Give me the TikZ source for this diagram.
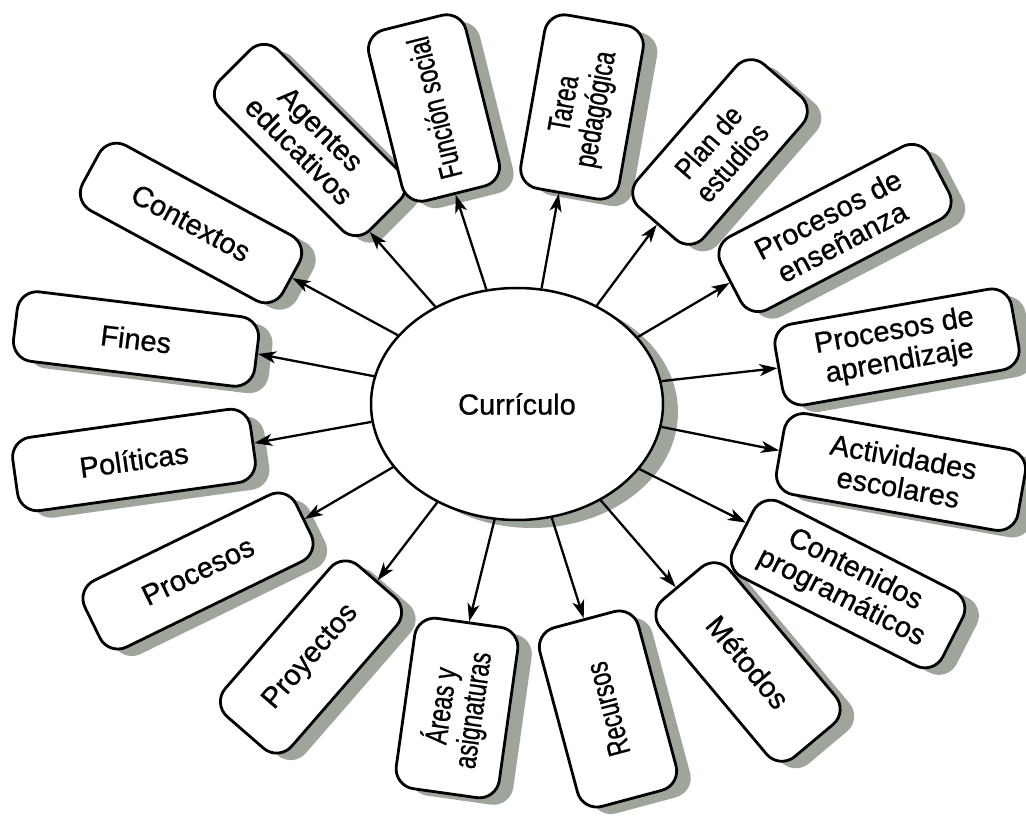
\documentclass[tikz,border=0pt]{standalone}
\usepackage{fontspec}
\setmainfont{Liberation Sans}
\newfontfamily\normf{Liberation Sans}[FakeBold=0.8]
\newfontfamily\midf{Liberation Sans}[FakeStretch=0.87,FakeBold=0.8]
\newfontfamily\narrowf{Liberation Sans}[FakeStretch=0.72,FakeBold=0.8]
\newcommand\normset{\normf\fontsize{29}{31}\selectfont}
\newcommand\midset{\midf\fontsize{29}{31}\selectfont}
\newcommand\narrowset{\narrowf\fontsize{31.5}{32}\selectfont}
\usetikzlibrary{arrows.meta,shapes.geometric}
\definecolor{shade}{RGB}{158,166,156}
\begin{document}
\begin{tikzpicture}[x=1pt,y=1pt,
  boxbase/.style={rectangle,rounded corners=20pt,inner sep=0pt,align=center},
  mainbox/.style={boxbase,draw=black,line width=2.8pt,fill=white},
  shadowbox/.style={boxbase,fill=shade},
  hub/.style={ellipse,inner sep=0pt,minimum width=292pt,minimum height=232pt,font=\normset},
  arr/.style={line width=2.3pt,-{Stealth[length=18pt,width=12pt,inset=5pt]}}]
\useasboundingbox (0,0) rectangle (1026,815);
\fill[white] (0,0) rectangle (1026,815);
\def\boxes{fines/136/476/-7/243/70/\normset/Fines,
  politicas/134/355/8/240/74/\normset/Políticas,
  contextos/191/592/-28.5/228/74/\normset/Contextos,
  agentes/310/675/-45/212/82/\normset/{Agentes\\educativos},
  funcion/434/707/104/176/100/\narrowset/Función social,
  tarea/582/708/80/176/100/\narrowset/{Tarea\\pedagógica},
  plan/720/663/49/190/88/\midset/{Plan de\\estudios},
  ensenanza/835/587/27.5/235/82/\normset/{Procesos de\\enseñanza},
  aprendizaje/897/468/10/240/82/\normset/{Procesos de\\aprendizaje},
  actividades/901/343/-10/245/82/\normset/{Actividades\\escolares},
  contenidos/848/231/-27/235/84/\normset/{Contenidos\\programáticos},
  metodos/748/153/-50/205/90/\normset/Métodos,
  recursos/608/106/105/185/102/\narrowset/Recursos,
  areas/457/107/82/172/104/\narrowset/{Áreas y\\asignaturas},
  proyectos/311/158/49/200/88/\normset/Proyectos,
  procesos/198/244/26/235/74/\normset/Procesos}
% shadows
\foreach \nm/\px/\py/\ang/\len/\thk/\fs/\txt in \boxes
  \node[shadowbox,rotate=\ang,minimum width=\len,minimum height=\thk] (\nm-s) at (\px+14,\py-7) {};
\node[hub,fill=shade] (C-s) at (532,403) {};
% hub
\node[hub,draw=black,line width=2.5pt,fill=white] (C) at (517,411) {Currículo};
% boxes
\foreach \nm/\px/\py/\ang/\len/\thk/\fs/\txt in \boxes
  \node[mainbox,font=\fs,rotate=\ang,minimum width=\len,minimum height=\thk] (\nm) at (\px,\py) {\txt};
% arrows
\foreach \nm/\anc/\st in {fines/east/169, politicas/east/187, contextos/east/150,
  agentes/348/130, funcion/west/105, tarea/175/78, plan/west/51,
  ensenanza/west/29, aprendizaje/west/9, actividades/west/351,
  contenidos/176/332, metodos/184/311, recursos/east/287,
  areas/east/259, proyectos/east/231, procesos/east/207}
  \draw[arr] (C.\st) -- (\nm.\anc);
\end{tikzpicture}
\end{document}
